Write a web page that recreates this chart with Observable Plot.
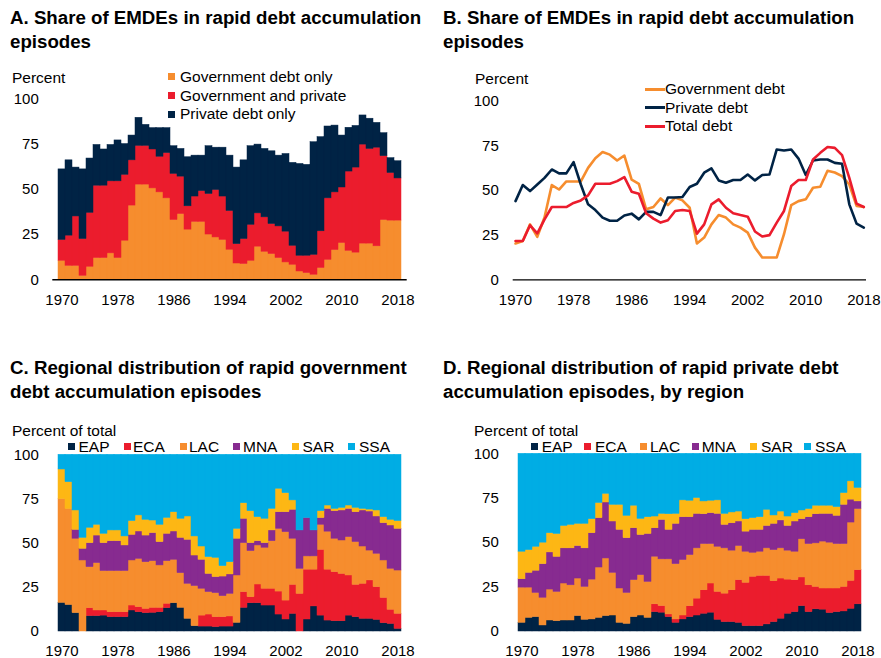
<!DOCTYPE html>
<html><head><meta charset="utf-8">
<script src="https://cdn.jsdelivr.net/npm/d3@7"></script>
<script src="https://cdn.jsdelivr.net/npm/@observablehq/plot@0.6"></script>
<style>
body{margin:0;background:#fff;font-family:"Liberation Sans",Arial,sans-serif;color:#000;}
#root{position:relative;width:881px;height:658px;overflow:hidden;background:#fff}
.abs{position:absolute;white-space:nowrap}
.title{font-weight:bold;font-size:18.7px;line-height:24px}
.lbl{font-size:15.5px;line-height:14px}
.sw{position:absolute;width:7px;height:7px}
.seg{position:absolute;width:20px;height:2.6px}
</style></head><body><div id="root"></div>
<script>
const years = [1970,1971,1972,1973,1974,1975,1976,1977,1978,1979,1980,1981,1982,1983,1984,1985,1986,1987,1988,1989,1990,1991,1992,1993,1994,1995,1996,1997,1998,1999,2000,2001,2002,2003,2004,2005,2006,2007,2008,2009,2010,2011,2012,2013,2014,2015,2016,2017,2018];
const tickYears = [1970,1978,1986,1994,2002,2010,2018];
const yTicks = [0,25,50,75,100];

// Panel A: share of EMDEs in rapid debt accumulation episodes (stacked)
const seriesA = ["Government debt only","Government and private","Private debt only"];
const govOnlyA = [10.5,7.7,7.7,2.2,7.2,12,12,14.6,12,21.6, 41,52.6,52.6,50.5,48.3,45,33,36.3,27.7,32, 32,25,23.4,22,16.6,9,8.7,10.5,18.3,15.5, 14.2,12,9.6,8.3,4.6,3.7,2.8,6.5,11,16.4, 20.3,16,15,20,20,18.5,33,32.7,32.7];
const govPrivA = [11.5,16.7,27.3,20.3,29.8,40,40,39.8,42.4,36.4, 25,21.4,21.4,21.5,19.7,25,25.5,20.7,12.9,14, 17,22.4,26.2,24,21.4,10.7,13.8,19.9,18.4,19, 16.6,17.5,17,10.5,8.7,9.6,11,20.3,34,31.9, 30.7,43.8,47,54.7,52.3,54.5,35.3,26.3,23.3];
const privOnlyA = [39,41.6,27,38.5,30,22.5,20,20.1,22.6,17, 13.7,15.5,11.6,11.8,15.8,13.8,15.3,15.3,27.1,22.6, 19.6,26.4,23.4,27,30.6,42.3,43.5,43.4,38,37.8, 40.2,39.1,42.9,45.8,50.7,50.2,62.2,52,39.7,36.9, 28.7,24.2,23,16.1,16.7,13.7,12.7,8.2,9.5];

// Panel B: lines
const seriesB = ["Government debt","Private debt","Total debt"];
const govB = [20.3,21.7,31,24,35,53,50.5,55,55,55, 62.6,68,71.5,70,66.7,69.5,56,53.7,39.4,40.7, 45.5,41.8,46,44.4,40.3,20.3,23.6,31,36.2,34.8, 31,29.2,26.4,18,12.5,12.5,12.5,25.5,41.8,44, 45,51.5,52,61,60,58,53.3,41.3,40.7];
const privB = [44,53,49.6,53.3,57,61.7,59.5,59.5,65.8,53.3, 42.2,39,34.8,33,33,36,37,33.8,38,38, 36.2,46,46,46.3,51.9,53.7,59.9,62.3,55.6,54.3, 55.8,55.8,58.9,55.6,58.6,58.9,72.9,72.3,72.9,67.8, 58.6,66.7,67.3,67.3,65.4,64.9,42.2,31.4,29.2];
const totalB = [21.7,21.7,30.5,26,33.8,40.7,40.7,40.7,43,44.4, 47.2,53.7,53.7,53.7,55.2,57.4,49.3,48.1,37.2,34.2, 32,33.3,38.5,39,38.5,25.8,31,42.2,45,40.3, 37.2,36.2,35.3,27,24.2,25,32,38.5,52.4,55.8, 55.8,67.3,71,74.3,73.8,69.7,57,42.6,40.7];

// Regions
const regions = ["EAP","ECA","LAC","MNA","SAR","SSA"];

// Panel C: government debt episodes by region
const eapC = [16.2,15,10.4,0,8.7,8.7,9,8.1,8.1,8.1, 11.9,10.9,10.4,10.6,10.9,13.2,16,13.4,7.2,3, 2.8,2.8,2.5,2.8,2.8,4.9,13.4,16,16,14.7, 14.7,9.6,6.8,10,0,6.8,14.2,9,6.2,5.8, 5.8,9,8.1,7.2,7.2,6.6,4.7,4.3,1.5];
const ecaC = [0,0,0,0,4.5,3.2,2.9,2.8,2.8,2.8, 2.8,2.9,2.4,2.8,2.5,2.5,0,0,0,0, 6.2,6.8,5.6,5.3,5.7,0,8.9,3.4,10.6,9.5, 9.5,13,10.7,16.4,21.3,28.2,20.8,37.2,28.8,27.8, 26.8,22.7,18.3,19.8,21.7,18.5,14.3,8,8.5];
const lacC = [58.8,54.4,42.1,40.2,23.2,26.8,22.3,23.3,23.3,23.3, 25.5,27.3,26.4,26.4,24,24.1,24.6,19.6,19.8,22.7, 15.2,12.7,13.6,11.9,12.8,26.8,27.7,26.1,22.1,23.2, 26.9,35.5,38.7,26.1,14.2,7.5,7.5,14.2,21.5,18.9, 18.9,21.7,24.2,21.1,16.9,18.9,21.2,23.2,24.5];
const mnaC = [0,0,5,6.6,13.6,15.6,15.8,16.9,16.9,14.5, 14.5,15.5,15.1,15.9,13.2,15.5,16,20,24.9,17.3, 16.4,10.3,9.1,11.1,11,20.8,13.8,4.5,2.4,2.6, 6.1,9.4,11.3,16.4,21.7,21.7,14.7,3.8,12.9,15.6, 17,16,16.9,20.4,22.1,21.1,21.1,24.5,23.6];
const sarC = [16.7,15.1,11,6.2,8.7,6.1,5.3,6.1,6.1,5.1, 7.8,9.1,8.9,7.1,9.8,9,10.9,10.8,13.2,10.8, 7.5,9.5,10.9,5.9,6.9,5.6,8.8,18.1,13.6,13.8, 12.2,13.3,10.8,5.3,0,0,0,3.9,1.9,1.3, 1.5,1.9,2.5,0.9,1.1,3.4,3.4,3.2,4.4];
const ssaC = [8.3,15.5,31.5,47,41.3,39.6,44.7,42.8,42.8,46.2, 37.5,34.3,36.8,37.2,39.6,35.7,32.5,36.2,34.9,46.2, 51.9,57.9,58.3,63,60.8,41.9,27.4,31.9,35.3,36.2, 30.6,19.2,21.7,25.8,42.8,35.8,42.8,31.9,28.7,30.6, 30,28.7,30,30.6,31,31.5,35.3,36.8,37.5];

// Panel D: private debt episodes by region
const eapD = [4.9,7.7,8.1,3.4,6.2,5.8,6.2,6.2,8.7,6.6, 6.8,7.7,8.7,9,4.9,4.3,8.1,9,7.7,10.9, 10.6,8.1,4.9,6.8,8.1,9,10,10.6,6.6,5.3, 5.3,4.9,3,3,3,4,5.3,7.2,10,10.9, 14.3,10.9,12.5,12.3,10.4,10.9,11.3,12.8,15.3];
const ecaD = [0,0,0,0,0,0,0,0,0,0, 0,0,0,0,0,0,0,0,0,4.4, 3.7,1.5,1.9,2.2,6.1,9.5,13.2,16.4,15.7,16, 17.9,24,24.4,27.8,28.3,27.3,23,22.6,19.2,18, 16.1,15.1,12.6,11.9,13.8,13.3,13.8,15.7,19.2];
const lacD = [19.8,17,13.6,15.6,17.4,16.5,20.8,19.8,21.1,18.5, 22.4,28.3,32.4,24,19.3,17.4,20.8,22.7,20.2,26.8, 26.3,31,31.1,31.2,28.8,28.3,26,22.2,25.4,25.5, 22.3,19.2,17.5,13.5,13.6,15.5,17.5,17,16.3,16, 21.5,23.2,24.5,26.4,25.8,25,24.1,32.8,34.4];
const mnaD = [4.7,8.3,12.5,18.9,20.9,19.7,19.8,20.8,18.3,21.7, 26.1,27.8,31.5,28.9,33,30.8,29.2,22.6,27,16, 22.2,16.6,22.7,24.1,21.3,19.4,16.8,17.4,18.5,13.2, 15.4,13.8,11.3,12.9,12.3,12.6,14.8,15.7,13.9,17, 11.3,15.1,16.4,15.6,16.2,15.9,22.1,12.9,4.3];
const sarD = [15.5,12.8,13.5,12.1,10.8,12.9,12.6,13.2,12.5,13.8, 7.9,8.5,4.9,9.4,14.1,12.6,12.7,9.1,9.4,6.6, 3.4,8.8,5.6,9.5,9.3,8.9,7.2,7,7.6,6.2, 6.1,5.6,7,6.6,7.1,9.1,4.7,5,5.3,4.7, 4.9,4.6,4.8,4.6,4.6,4.9,6.6,10.3,7.6];
const ssaD = [55.1,54.2,52.3,50,44.7,45.1,40.6,40,39.4,39.4, 36.8,27.7,22.5,28.7,28.7,34.9,29.2,36.6,35.7,35.3, 33.8,34,33.8,26.2,26.4,24.9,26.8,26.4,26.2,33.8, 33,32.5,36.8,36.2,35.7,31.5,34.7,32.5,35.3,33.4, 31.9,31.1,29.2,29.2,29.2,30,22.1,15.5,19.2];

const NAVY="#002345", RED="#EB1C2D", ORANGE="#F68D2E", PURPLE="#872B90", YELLOW="#FDB714", CYAN="#00ADE4";
const colorsA = [ORANGE, RED, NAVY];
const colorsB = [ORANGE, NAVY, RED];
const colorsR = [NAVY, RED, ORANGE, PURPLE, YELLOW, CYAN];

function toLong(names, arrays){
  const rows=[];
  names.forEach((s,i)=>arrays[i].forEach((v,j)=>rows.push({year:years[j], series:s, value:v})));
  return rows;
}

const root = document.getElementById("root");
function place(el, x, y){ const d=document.createElement("div"); d.className="abs"; d.style.left=x+"px"; d.style.top=y+"px"; d.appendChild(el); root.appendChild(d); }
function text(str, x, yc){ const d=document.createElement("div"); d.className="abs lbl"; d.innerHTML=str; d.style.left=x+"px"; d.style.top=(yc-7)+"px"; root.appendChild(d); return d; }
function title(html, x, top){ const d=document.createElement("div"); d.className="abs title"; d.innerHTML=html; d.style.left=x+"px"; d.style.top=top+"px"; root.appendChild(d); }
function swatch(color, x, yc){ const d=document.createElement("div"); d.className="sw"; d.style.background=color; d.style.left=x+"px"; d.style.top=(yc-3.5)+"px"; root.appendChild(d); }
function seg(color, x, yc){ const d=document.createElement("div"); d.className="seg"; d.style.background=color; d.style.left=x+"px"; d.style.top=(yc-1.3)+"px"; root.appendChild(d); }

const baseStyle = {fontFamily:"'Liberation Sans', Arial, sans-serif", fontSize:"15px", color:"#000", background:"transparent", overflow:"visible"};

function stacked(data, names, colors, o){
  return Plot.plot({
    width:o.width, height:o.height, marginTop:o.mt, marginBottom:o.mb, marginLeft:o.ml, marginRight:o.mr,
    style: baseStyle,
    x:{type:"band", domain:years, paddingInner:0, paddingOuter:0, ticks:tickYears, tickFormat:d=>String(d), tickSize:0, tickPadding:o.xpad, label:null},
    y:{domain:[0,100], ticks:yTicks, tickSize:0, tickPadding:o.ypad, label:null},
    color:{domain:names, range:colors},
    marks:[
      Plot.barY(data, {x:"year", y:"value", z:"series", fill:"series", stroke:"series", strokeWidth:0.5, order:names}),
      o.baseline ? Plot.ruleY([0], {stroke:"#000", strokeWidth:1.4}) : null
    ]
  });
}

// Panel A
title("A. Share of EMDEs in rapid debt accumulation<br>episodes", 10, 6);
place(stacked(toLong(seriesA,[govOnlyA,govPrivA,privOnlyA]), seriesA, colorsA,
  {width:440, height:250, mt:38.3, mb:30.7, ml:52.3, mr:33.3, xpad:14.5, ypad:14, baseline:true}), 0, 60);
text("Percent", 12, 78);
[76.7,95.7,114.3].forEach((y,i)=>{ swatch(colorsA[i], 168, y); text(seriesA[i], 180, y); });

// Panel B
title("B. Share of EMDEs in rapid debt accumulation<br>episodes", 443, 6);
place(Plot.plot({
  width:441, height:250, marginTop:40.5, marginBottom:30.7, marginLeft:72.7, marginRight:15,
  style: baseStyle,
  x:{domain:[1969.68, 2018.37], ticks:tickYears, tickFormat:d=>String(d), tickSize:0, tickPadding:14.5, label:null},
  y:{domain:[0,100], ticks:yTicks, tickSize:0, tickPadding:14.4, label:null},
  color:{domain:seriesB, range:colorsB},
  marks:[
    Plot.ruleY([0], {stroke:"#000", strokeWidth:1.3}),
    Plot.line(toLong(seriesB,[govB,privB,totalB]), {x:"year", y:"value", z:"series", stroke:"series", strokeWidth:2.6})
  ]
}), 440, 60);
text("Percent", 475, 79);
[89.3,107.7,126.3].forEach((y,i)=>{ seg(colorsB[i], 645, y); text(seriesB[i], 665, y); });

// Panel C
title("C. Regional distribution of rapid government<br>debt accumulation episodes", 10, 356);
place(stacked(toLong(regions,[eapC,ecaC,lacC,mnaC,sarC,ssaC]), regions, colorsR,
  {width:440, height:238, mt:34.3, mb:27, ml:52.3, mr:33.3, xpad:13.75, ypad:14, baseline:false}), 0, 420);
text("Percent of total", 12, 431);
[[68.3,78.5],[124,133],[180,189],[232.7,243],[291.7,302.5],[347.7,359]].forEach((p,i)=>{ swatch(colorsR[i], p[0], 446.5); text(regions[i], p[1], 446.5); });

// Panel D
title("D. Regional distribution of rapid private debt<br>accumulation episodes, by region", 443, 356);
place(stacked(toLong(regions,[eapD,ecaD,lacD,mnaD,sarD,ssaD]), regions, colorsR,
  {width:441, height:238, mt:33.3, mb:27, ml:72.7, mr:15, xpad:13.75, ypad:14.4, baseline:false}), 440, 420);
text("Percent of total", 474, 431);
[[530.7,541.7],[584,595],[640,650],[691.7,701.7],[750,761],[804,815]].forEach((p,i)=>{ swatch(colorsR[i], p[0], 446.5); text(regions[i], p[1], 446.5); });
</script></body></html>
